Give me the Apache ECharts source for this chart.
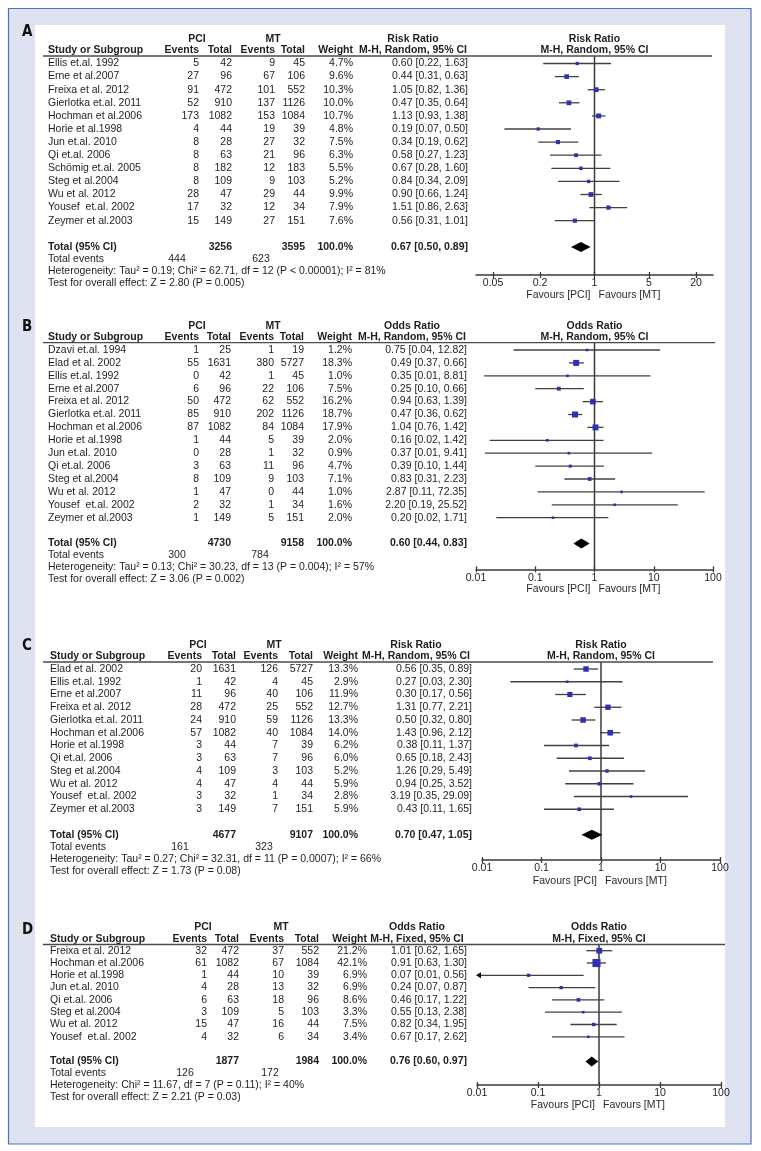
<!DOCTYPE html>
<html><head><meta charset="utf-8">
<script src="https://cdn.jsdelivr.net/npm/echarts@6/dist/echarts.min.js"></script>
<style>html,body{margin:0;padding:0;background:#fff}#c{width:761px;height:1151px}</style>
</head><body><div id="c"></div>
<script>
// ================= DATA =================
const ticksA = [0.05, 0.2, 1, 5, 20];
const ticksOR = [0.01, 0.1, 1, 10, 100];

// ---- Panel A: Risk Ratio, M-H, Random ----
const studiesA = ["Ellis et.al. 1992","Erne et al.2007","Freixa et al. 2012","Gierlotka et.al. 2011","Hochman et al.2006","Horie et al.1998","Jun et.al. 2010","Qi et.al. 2006","Schömig et.al. 2005","Steg et al.2004","Wu et al. 2012","Yousef  et.al. 2002","Zeymer et al.2003"];
const pciEventsA = [5,27,91,52,173,4,8,8,8,8,28,17,15];
const pciTotalA  = [42,96,472,910,1082,44,28,63,182,109,47,32,149];
const mtEventsA  = [9,67,101,137,153,19,27,21,12,9,29,12,27];
const mtTotalA   = [45,106,552,1126,1084,39,32,96,183,103,44,34,151];
const weightA    = [4.7,9.6,10.3,10.0,10.7,4.8,7.5,6.3,5.5,5.2,9.9,7.9,7.6];
const ratioA     = [0.60,0.44,1.05,0.47,1.13,0.19,0.34,0.58,0.67,0.84,0.90,1.51,0.56];
const lowerA     = [0.22,0.31,0.82,0.35,0.93,0.07,0.19,0.27,0.28,0.34,0.66,0.86,0.31];
const upperA     = [1.63,0.63,1.36,0.64,1.38,0.50,0.62,1.23,1.60,2.09,1.24,2.63,1.01];
const totalsA = [3256, 3595, 444, 623];
const pooledA = [0.67, 0.50, 0.89];
const hetA  = "Heterogeneity: Tau² = 0.19; Chi² = 62.71, df = 12 (P < 0.00001); I² = 81%";
const testA = "Test for overall effect: Z = 2.80 (P = 0.005)";

// ---- Panel B: Odds Ratio, M-H, Random ----
const studiesB = ["Dzavi et.al. 1994","Elad et al. 2002","Ellis et.al. 1992","Erne et al.2007","Freixa et al. 2012","Gierlotka et.al. 2011","Hochman et al.2006","Horie et al.1998","Jun et.al. 2010","Qi et.al. 2006","Steg et al.2004","Wu et al. 2012","Yousef  et.al. 2002","Zeymer et al.2003"];
const pciEventsB = [1,55,0,6,50,85,87,1,0,3,8,1,2,1];
const pciTotalB  = [25,1631,42,96,472,910,1082,44,28,63,109,47,32,149];
const mtEventsB  = [1,380,1,22,62,202,84,5,1,11,9,0,1,5];
const mtTotalB   = [19,5727,45,106,552,1126,1084,39,32,96,103,44,34,151];
const weightB    = [1.2,18.3,1.0,7.5,16.2,18.7,17.9,2.0,0.9,4.7,7.1,1.0,1.6,2.0];
const ratioB     = [0.75,0.49,0.35,0.25,0.94,0.47,1.04,0.16,0.37,0.39,0.83,2.87,2.20,0.20];
const lowerB     = [0.043,0.37,0.0137,0.10,0.63,0.36,0.76,0.017,0.0142,0.10,0.31,0.11,0.19,0.022];
const upperB     = [12.82,0.66,8.81,0.66,1.39,0.62,1.42,1.42,9.41,1.44,2.23,72.35,25.52,1.71];
const totalsB = [4730, 9158, 300, 784];
const pooledB = [0.60, 0.44, 0.83];
const hetB  = "Heterogeneity: Tau² = 0.13; Chi² = 30.23, df = 13 (P = 0.004); I² = 57%";
const testB = "Test for overall effect: Z = 3.06 (P = 0.002)";

// ---- Panel C: Risk Ratio, M-H, Random ----
const studiesC = ["Elad et al. 2002","Ellis et.al. 1992","Erne et al.2007","Freixa et al. 2012","Gierlotka et.al. 2011","Hochman et al.2006","Horie et al.1998","Qi et.al. 2006","Steg et al.2004","Wu et al. 2012","Yousef  et.al. 2002","Zeymer et al.2003"];
const pciEventsC = [20,1,11,28,24,57,3,3,4,4,3,3];
const pciTotalC  = [1631,42,96,472,910,1082,44,63,109,47,32,149];
const mtEventsC  = [126,4,40,25,59,40,7,7,3,4,1,7];
const mtTotalC   = [5727,45,106,552,1126,1084,39,96,103,44,34,151];
const weightC    = [13.3,2.9,11.9,12.7,13.3,14.0,6.2,6.0,5.2,5.9,2.8,5.9];
const ratioC     = [0.56,0.27,0.30,1.31,0.50,1.43,0.38,0.65,1.26,0.94,3.19,0.43];
const lowerC     = [0.35,0.03,0.17,0.77,0.32,0.96,0.11,0.18,0.29,0.25,0.35,0.11];
const upperC     = [0.89,2.30,0.56,2.21,0.80,2.12,1.37,2.43,5.49,3.52,29.09,1.65];
const totalsC = [4677, 9107, 161, 323];
const pooledC = [0.70, 0.47, 1.05];
const hetC  = "Heterogeneity: Tau² = 0.27; Chi² = 32.31, df = 11 (P = 0.0007); I² = 66%";
const testC = "Test for overall effect: Z = 1.73 (P = 0.08)";

// ---- Panel D: Odds Ratio, M-H, Fixed ----
const studiesD = ["Freixa et al. 2012","Hochman et al.2006","Horie et al.1998","Jun et.al. 2010","Qi et.al. 2006","Steg et al.2004","Wu et al. 2012","Yousef  et.al. 2002"];
const pciEventsD = [32,61,1,4,6,3,15,4];
const pciTotalD  = [472,1082,44,28,63,109,47,32];
const mtEventsD  = [37,67,10,13,18,5,16,6];
const mtTotalD   = [552,1084,39,32,96,103,44,34];
const weightD    = [21.2,42.1,6.9,6.9,8.6,3.3,7.5,3.4];
const ratioD     = [1.01,0.91,0.07,0.24,0.46,0.55,0.82,0.67];
const lowerD     = [0.62,0.63,0.0087,0.07,0.17,0.13,0.34,0.17];
const upperD     = [1.65,1.30,0.56,0.87,1.22,2.38,1.95,2.62];
const totalsD = [1877, 1984, 126, 172];
const pooledD = [0.76, 0.60, 0.97];
const hetD  = "Heterogeneity: Chi² = 11.67, df = 7 (P = 0.11); I² = 40%";
const testD = "Test for overall effect: Z = 2.21 (P = 0.03)";

// ================= LAYOUT =================
const panels = [
  {label:'A', measure:'Risk Ratio', method:'M-H, Random, 95% CI', ticks:ticksA,
   studies:studiesA, pe:pciEventsA, pt:pciTotalA, me:mtEventsA, mt:mtTotalA, w:weightA, r:ratioA, lo:lowerA, hi:upperA,
   totals:totalsA, pooled:pooledA, het:hetA, test:testA,
   L:{labelY:31.7, line:56, lineEnd:712, first:63.5, rowH:13.1, axisY:275, gl:476, gr:713, xMin:-1.519, xMax:1.519,
      name:48, ev1:199, tot1:232, ev2:275, tot2:305, wt:353, est:468, pciC:197, mtC:273, hdrC:413, favY:295, sq:1.5}},
  {label:'B', measure:'Odds Ratio', method:'M-H, Random, 95% CI', ticks:ticksOR,
   studies:studiesB, pe:pciEventsB, pt:pciTotalB, me:mtEventsB, mt:mtTotalB, w:weightB, r:ratioB, lo:lowerB, hi:upperB,
   totals:totalsB, pooled:pooledB, het:hetB, test:testB,
   L:{labelY:326.7, line:342.7, lineEnd:715, first:350, rowH:12.9, axisY:569.3, gl:476, gr:713, xMin:-2, xMax:2,
      name:48, ev1:199, tot1:231, ev2:274, tot2:304, wt:352, est:467, pciC:197, mtC:273, hdrC:412, favY:589.5, sq:1.4}},
  {label:'C', measure:'Risk Ratio', method:'M-H, Random, 95% CI', ticks:ticksOR,
   studies:studiesC, pe:pciEventsC, pt:pciTotalC, me:mtEventsC, mt:mtTotalC, w:weightC, r:ratioC, lo:lowerC, hi:upperC,
   totals:totalsC, pooled:pooledC, het:hetC, test:testC,
   L:{labelY:645.7, line:662, lineEnd:713, first:669, rowH:12.75, axisY:860, gl:482, gr:720, xMin:-2, xMax:2,
      name:50, ev1:202, tot1:236, ev2:278, tot2:313, wt:358, est:472, pciC:198, mtC:274, hdrC:416, favY:881.5, sq:1.5}},
  {label:'D', measure:'Odds Ratio', method:'M-H, Fixed, 95% CI', ticks:ticksOR,
   studies:studiesD, pe:pciEventsD, pt:pciTotalD, me:mtEventsD, mt:mtTotalD, w:weightD, r:ratioD, lo:lowerD, hi:upperD,
   totals:totalsD, pooled:pooledD, het:hetD, test:testD,
   L:{labelY:930, line:944.5, lineEnd:725, first:950.7, rowH:12.3, axisY:1085, gl:477, gr:721, xMin:-2, xMax:2,
      name:50, ev1:207, tot1:239, ev2:284, tot2:319, wt:367, est:467, pciC:203, mtC:281, hdrC:417, favY:1105, sq:1.25}}
];

const FONT = "'Liberation Sans', Arial, Helvetica, sans-serif";
const FS = 10.5;
const TXT = '#1e1e1e';
const graphics = [];
graphics.push({type:'rect', z:-10, silent:true, shape:{x:8.5, y:8.5, width:742.5, height:1135.5}, style:{fill:'#dfe2f1', stroke:'#4e74b8', lineWidth:1.2}});
graphics.push({type:'rect', z:-9, silent:true, shape:{x:35, y:25, width:690, height:1102}, style:{fill:'#ffffff'}});

function txt(x, y, s, o) {
  o = o || {};
  graphics.push({type:'text', x:x, y:y, silent:true, z:5,
    style:{text:s, fill:o.color||TXT, font:(o.bold?'bold ':'')+(o.size||FS)+'px '+(o.family||FONT),
           align:o.align||'left', verticalAlign:'middle'}});
}
function hline(x1, x2, y, color, w) {
  graphics.push({type:'line', silent:true, z:5, shape:{x1:x1, y1:y, x2:x2, y2:y}, style:{stroke:color, lineWidth:w}});
}
const fmt2 = v => v.toFixed(2);
const ci = (r, lo, hi) => fmt2(r) + ' [' + fmt2(lo) + ', ' + fmt2(hi) + ']';

const grids = [], xAxes = [], yAxes = [], series = [];

panels.forEach((p, gi) => {
  const L = p.L;
  const n = p.studies.length;
  const rowY = i => L.first + i * L.rowH;
  const totalRow = n + 1;
  const centerX = L.gl + (0 - L.xMin) / (L.xMax - L.xMin) * (L.gr - L.gl);

  // panel label
  txt(22, L.labelY, p.label, {bold:true, size:15, family:"'Liberation Sans Narrow','DejaVu Sans Condensed','Roboto Condensed',sans-serif", color:'#111'});
  // headers
  const h1 = L.line - 17, h2 = L.line - 5.5;
  txt(L.pciC, h1, 'PCI', {bold:true, align:'center'});
  txt(L.mtC, h1, 'MT', {bold:true, align:'center'});
  txt(L.hdrC, h1, p.measure, {bold:true, align:'center'});
  txt(centerX, h1, p.measure, {bold:true, align:'center'});
  txt(L.name, h2, 'Study or Subgroup', {bold:true});
  txt(L.ev1, h2, 'Events', {bold:true, align:'right'});
  txt(L.tot1, h2, 'Total', {bold:true, align:'right'});
  txt(L.ev2, h2, 'Events', {bold:true, align:'right'});
  txt(L.tot2, h2, 'Total', {bold:true, align:'right'});
  txt(L.wt, h2, 'Weight', {bold:true, align:'right'});
  txt(L.hdrC, h2, p.method, {bold:true, align:'center'});
  txt(centerX, h2, p.method, {bold:true, align:'center'});
  hline(43, L.lineEnd, L.line, '#4a4a4a', 1.3);

  // study rows
  p.studies.forEach((s, i) => {
    const y = rowY(i);
    txt(L.name, y, s);
    txt(L.ev1, y, String(p.pe[i]), {align:'right'});
    txt(L.tot1, y, String(p.pt[i]), {align:'right'});
    txt(L.ev2, y, String(p.me[i]), {align:'right'});
    txt(L.tot2, y, String(p.mt[i]), {align:'right'});
    txt(L.wt, y, p.w[i].toFixed(1) + '%', {align:'right'});
    txt(L.est, y, ci(p.r[i], p.lo[i], p.hi[i]), {align:'right'});
  });
  // totals
  const ty = rowY(totalRow);
  txt(L.name, ty, 'Total (95% CI)', {bold:true});
  txt(L.tot1, ty, String(p.totals[0]), {bold:true, align:'right'});
  txt(L.tot2, ty, String(p.totals[1]), {bold:true, align:'right'});
  txt(L.wt, ty, '100.0%', {bold:true, align:'right'});
  txt(L.est, ty, ci(p.pooled[0], p.pooled[1], p.pooled[2]), {bold:true, align:'right'});
  txt(L.name, ty + 12, 'Total events');
  txt(L.ev1 - 22, ty + 12, String(p.totals[2]), {align:'center'});
  txt(L.ev2 - 14, ty + 12, String(p.totals[3]), {align:'center'});
  txt(L.name, ty + 24, p.het);
  txt(L.name, ty + 36, p.test);
  // favours
  txt(centerX - 4, L.favY, 'Favours [PCI]', {align:'right', color:'#2a2a2a'});
  txt(centerX + 4, L.favY, 'Favours [MT]', {color:'#2a2a2a'});

  // grid / axes
  const yMin = -(L.first - L.line) / L.rowH;
  const yMax = (L.axisY - L.first) / L.rowH;
  grids.push({left:L.gl, width:L.gr - L.gl, top:L.line, height:L.axisY - L.line, containLabel:false, outerBoundsMode:'none'});
  const logT = p.ticks.map(t => Math.log10(t));
  const labelFmt = v => { for (const t of p.ticks) { if (Math.abs(Math.log10(t) - v) < 1e-6) return String(t); } return ''; };
  const base = {type:'value', gridIndex:gi, min:L.xMin, max:L.xMax, position:'bottom', splitLine:{show:false}};
  if (p.ticks === ticksOR) base.interval = 1;
  const ax1 = Object.assign({}, base, {
    axisLine:{show:true, onZero:false, lineStyle:{color:'#3a3a3a', width:1.5}},
    axisTick:{show:true, inside:true, length:3, lineStyle:{color:'#3a3a3a', width:1.3}},
    axisLabel:{show:true, margin:3, fontSize:FS, fontFamily:FONT, color:TXT, formatter:labelFmt}
  });
  const ax2 = Object.assign({}, base, {
    axisLine:{show:false, onZero:false},
    axisTick:{show:true, inside:false, length:3, lineStyle:{color:'#3a3a3a', width:1.3}},
    axisLabel:{show:false}
  });
  if (p.ticks !== ticksOR) {
    ax1.axisTick.customValues = logT; ax1.axisLabel.customValues = logT;
    ax2.axisTick.customValues = logT;
  }
  xAxes.push(ax1, ax2);
  yAxes.push({type:'value', gridIndex:gi, inverse:true, min:yMin, max:yMax, show:false, splitLine:{show:false}});

  // vertical line of no effect
  series.push({type:'line', xAxisIndex:gi*2, yAxisIndex:gi, silent:true, symbol:'none', z:3,
    data:[[0, yMin], [0, yMax]], lineStyle:{color:'#3a3a3a', width:1.5}});

  // study CIs and squares
  const xMinL = L.xMin, sq = L.sq;
  series.push({type:'custom', xAxisIndex:gi*2, yAxisIndex:gi, silent:true, z:4, clip:false,
    data:p.r.map((r, i) => [Math.log10(p.lo[i]), Math.log10(r), Math.log10(p.hi[i]), i, p.w[i]]),
    renderItem:(params, api) => {
      const cs = params.coordSys;
      const lo = api.value(0), est = api.value(1), hi = api.value(2), row = api.value(3), w = api.value(4);
      const pLo = api.coord([lo, row]), pE = api.coord([est, row]), pHi = api.coord([hi, row]);
      const left = cs.x, right = cs.x + cs.width;
      const x1 = Math.max(pLo[0], left), x2 = Math.min(pHi[0], right);
      const y = pE[1];
      const s = Math.max(2.6, sq * Math.sqrt(w));
      const ch = [
        {type:'line', shape:{x1:x1, y1:y, x2:x2, y2:y}, style:{stroke:'#404040', lineWidth:1.3}},
        {type:'rect', shape:{x:pE[0] - s/2, y:y - s/2, width:s, height:s}, style:{fill:'#2e32b0'}}
      ];
      if (lo < xMinL) ch.push({type:'polygon', shape:{points:[[left - 1, y], [left + 4, y - 3], [left + 4, y + 3]]}, style:{fill:'#000'}});
      return {type:'group', children:ch};
    }});

  // pooled diamond
  series.push({type:'custom', xAxisIndex:gi*2, yAxisIndex:gi, silent:true, z:4, clip:false,
    data:[[Math.log10(p.pooled[1]), Math.log10(p.pooled[0]), Math.log10(p.pooled[2]), totalRow]],
    renderItem:(params, api) => {
      const row = api.value(3);
      const a = api.coord([api.value(0), row]), b = api.coord([api.value(1), row]), c = api.coord([api.value(2), row]);
      const h = 5;
      return {type:'polygon', shape:{points:[[a[0], a[1]], [b[0], b[1] - h], [c[0], c[1]], [b[0], b[1] + h]]}, style:{fill:'#000'}};
    }});
});

const chart = echarts.init(document.getElementById('c'), null, {renderer:'canvas', width:761, height:1151});
chart.setOption({
  animation:false,
  backgroundColor:'#ffffff',
  grid:grids, xAxis:xAxes, yAxis:yAxes, series:series,
  graphic:{elements:graphics}
});
</script>
</body></html>
